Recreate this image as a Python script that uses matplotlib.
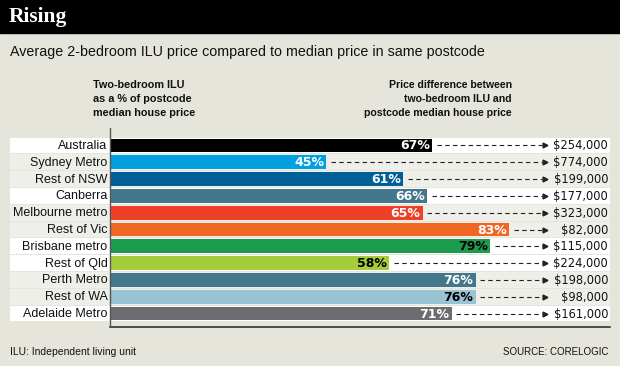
import matplotlib.pyplot as plt
from matplotlib.patches import Rectangle

# data
regions = ['Australia', 'Sydney Metro', 'Rest of NSW', 'Canberra', 'Melbourne metro',
           'Rest of Vic', 'Brisbane metro', 'Rest of Qld', 'Perth Metro', 'Rest of WA',
           'Adelaide Metro']
pct = [67, 45, 61, 66, 65, 83, 79, 58, 76, 76, 71]
diff = [254000, 774000, 199000, 177000, 323000, 82000, 115000, 224000, 198000, 98000, 161000]

bar_colors = ['#000000', '#00a0e1', '#005f97', '#44778b', '#ee4027', '#f26623',
              '#1c9a4e', '#a5cd39', '#44778b', '#98c3d3', '#6c6d70']
pct_text_colors = ['white', 'white', 'white', 'white', 'white', 'white',
                   'black', 'black', 'white', 'black', 'white']
row_shade = ['#ffffff', '#efefea', '#efefea', '#ffffff', '#efefea', '#efefea',
             '#ffffff', '#ffffff', '#efefea', '#efefea', '#ffffff']

BG = '#e6e5dc'
W, H = 620, 366
sans = ['Liberation Sans', 'DejaVu Sans']

fig = plt.figure(figsize=(W / 100, H / 100), dpi=100, facecolor=BG)

def fx(px):
    return px / W

def fy(py):
    return 1 - py / H

# black title strip
fig.patches.append(Rectangle((0, fy(33)), 1, 33 / H, transform=fig.transFigure,
                             color='black', zorder=0))
fig.text(fx(9), fy(17), 'Rising', color='white', fontsize=15.5, fontweight='bold',
         family='Liberation Serif', va='center', ha='left')
fig.text(fx(10), fy(52), 'Average 2-bedroom ILU price compared to median price in same postcode',
         fontsize=10.3, family=sans, va='center', ha='left', color='#111111')

fig.text(fx(93), fy(99), 'Two-bedroom ILU\nas a % of postcode\nmedian house price',
         fontsize=7.8, fontweight='bold', family=sans, va='center', ha='left',
         linespacing=1.45, color='#111111')
fig.text(fx(512), fy(99), 'Price difference between\ntwo-bedroom ILU and\npostcode median house price',
         fontsize=7.6, fontweight='bold', family=sans, va='center', ha='right',
         linespacing=1.45, multialignment='right', color='#111111')

# chart area: bars start at x=110px, 4.81px per percent
ppp = 4.81
xmin = -100 / ppp
xmax = 500 / ppp
pitch = 16.8
ax = fig.add_axes([fx(10), fy(327), 600 / W, 199 / H])
ax.set_facecolor('none')
ax.set_xlim(xmin, xmax)
ax.set_ylim(10.5 + 5 / pitch, -0.5 - 9 / pitch)

n = len(regions)
for i in range(n):
    ax.axhspan(i - 0.47, i + 0.47, color=row_shade[i], lw=0, zorder=0)

ax.barh(range(n), pct, height=0.82, color=bar_colors, zorder=2)
ax.axvline(0, color='#555555', lw=1.0, zorder=3)

arrow_end = (545 - 110) / ppp
for i in range(n):
    ax.text(pct[i] - 0.5, i + 0.03, f'{pct[i]}%', ha='right', va='center',
            fontsize=9, fontweight='bold', color=pct_text_colors[i], zorder=4)
    ax.plot([pct[i] + 1.0, arrow_end - 0.6], [i, i], color='#222222', lw=0.8,
            ls=(0, (4, 3)), zorder=3)
    ax.plot(arrow_end, i, marker='>', markersize=3.5, color='#222222', zorder=3)
    ax.text(xmax - 0.4, i + 0.03, f'${diff[i]:,}', ha='right', va='center',
            fontsize=8.3, color='#111111', zorder=4)
    ax.text(-0.5, i + 0.03, regions[i], ha='right', va='center', fontsize=9,
            family=sans, color='#111111', zorder=4)

for s in ['top', 'right', 'left']:
    ax.spines[s].set_visible(False)
ax.spines['bottom'].set_bounds(0, xmax)
ax.spines['bottom'].set_color('#333333')
ax.spines['bottom'].set_linewidth(1.2)
ax.set_xticks([])
ax.set_yticks([])

fig.text(fx(10), fy(352), 'ILU: Independent living unit', fontsize=7.5, family=sans,
         va='center', ha='left', color='#111111')
fig.text(fx(608), fy(352), 'SOURCE: CORELOGIC', fontsize=7, family=sans,
         va='center', ha='right', color='#111111')

fig.savefig('out.png', dpi=100, facecolor=BG)
